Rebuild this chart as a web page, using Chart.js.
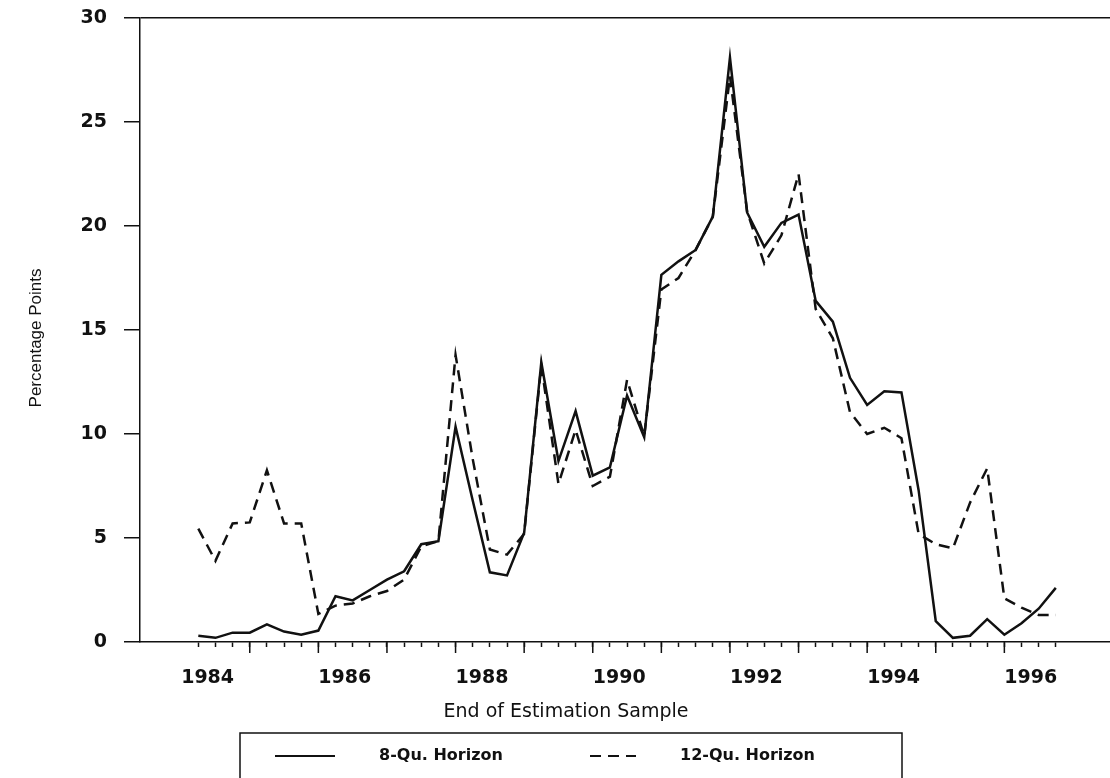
<!DOCTYPE html>
<html>
<head>
<meta charset="utf-8">
<title>Forecast error by end of estimation sample</title>
<script src="https://cdn.jsdelivr.net/npm/chart.js@4.4.1/dist/chart.umd.min.js"></script>
<style>
    html, body { margin: 0; padding: 0; background: #fff; }
    #wrap { width: 1110px; height: 778px; position: relative; }
</style>
</head>
<body>
<div id="wrap"><canvas id="chart"></canvas></div>
<script>
// Quarterly values, first point 1984 Q2, last point 1996 Q4
const eightQu = [
    0.3, 0.2, 0.45, 0.45, 0.85, 0.5, 0.35, 0.55,
    2.2, 2.0, 2.5, 3.0, 3.4, 4.7, 4.85, 10.35,
    6.8, 3.35, 3.2, 5.25, 13.45, 8.7, 11.1, 8.0,
    8.4, 11.85, 9.85, 17.65, 18.3, 18.85, 20.45, 28.1,
    20.65, 19.0, 20.15, 20.55, 16.4, 15.4, 12.7, 11.4,
    12.05, 12.0, 7.3, 1.0, 0.2, 0.3, 1.1, 0.35,
    0.9, 1.6, 2.6
];
const twelveQu = [
    5.45, 3.9, 5.7, 5.75, 8.25, 5.7, 5.7, 1.35,
    1.75, 1.85, 2.2, 2.45, 3.0, 4.6, 4.85, 13.8,
    8.8, 4.45, 4.2, 5.2, 13.3, 7.6, 10.2, 7.5,
    7.95, 12.6, 9.9, 16.95, 17.5, 18.85, 20.45, 27.2,
    20.7, 18.2, 19.55, 22.5, 16.0, 14.6, 11.05, 10.0,
    10.3, 9.8, 5.2, 4.7, 4.5, 6.7, 8.35, 2.1,
    1.65, 1.3, 1.3
];
const seriesLabels = ['8-Qu. Horizon', '12-Qu. Horizon'];
const yearLabels = [1984, 1986, 1988, 1990, 1992, 1994, 1996];
const yTicks = [0, 5, 10, 15, 20, 25, 30];
const xTitle = 'End of Estimation Sample';
const yTitle = 'Percentage Points';

// end-of-quarter dates, 1984.25 = 1984 Q2
const dates = eightQu.map((_, i) => 1984.25 + i * 0.25);

const ink = '#111';

// long ticks at full years, axis titles and the boxed legend
const decorations = {
    id: 'decorations',
    afterDraw(chart) {
        const ctx = chart.ctx;
        const area = chart.chartArea;
        const x = chart.scales.x;
        ctx.save();
        ctx.strokeStyle = ink;
        ctx.fillStyle = ink;
        ctx.lineWidth = 1.5;

        dates.filter(d => Number.isInteger(d)).forEach(d => {
            const px = x.getPixelForValue(d);
            ctx.beginPath();
            ctx.moveTo(px, area.bottom);
            ctx.lineTo(px, area.bottom + 11);
            ctx.stroke();
        });

        ctx.textAlign = 'center';
        ctx.textBaseline = 'middle';
        ctx.font = '19px "DejaVu Sans"';
        ctx.fillText(xTitle, 566, 712);

        ctx.save();
        ctx.translate(36, 338);
        ctx.rotate(-Math.PI / 2);
        ctx.font = '17px "Liberation Sans"';
        ctx.fillText(yTitle, 0, 0);
        ctx.restore();

        // legend
        ctx.lineWidth = 1.5;
        ctx.strokeRect(240, 733, 662, 70);
        const items = [
            { x0: 275, x1: 335, tx: 379 },
            { x0: 590, x1: 636, tx: 680 }
        ];
        ctx.font = 'bold 16px "DejaVu Sans"';
        ctx.textAlign = 'left';
        chart.data.datasets.forEach((ds, i) => {
            const it = items[i];
            ctx.lineWidth = 2;
            ctx.setLineDash(ds.borderDash || []);
            ctx.beginPath();
            ctx.moveTo(it.x0, 756);
            ctx.lineTo(it.x1, 756);
            ctx.stroke();
            ctx.setLineDash([]);
            ctx.fillText(ds.label, it.tx, 756);
        });
        ctx.restore();
    }
};

new Chart(document.getElementById('chart'), {
    type: 'line',
    data: {
        datasets: [
            {
                label: seriesLabels[0],
                data: dates.map((d, i) => ({ x: d, y: eightQu[i] })),
                borderColor: ink,
                borderWidth: 2.5,
                pointRadius: 0,
                tension: 0
            },
            {
                label: seriesLabels[1],
                data: dates.map((d, i) => ({ x: d, y: twelveQu[i] })),
                borderColor: ink,
                borderWidth: 2.5,
                borderDash: [11, 7],
                pointRadius: 0,
                tension: 0
            }
        ]
    },
    options: {
        responsive: true,
        maintainAspectRatio: false,
        animation: false,
        layout: { padding: { top: 18, right: 0, left: 0, bottom: 0 } },
        plugins: {
            legend: { display: false },
            tooltip: { enabled: false }
        },
        scales: {
            x: {
                type: 'linear',
                min: 1983.40,
                max: 1997.54,
                afterFit: scale => {
                    scale.height = 136;
                    scale.paddingLeft = 0;
                    scale.paddingRight = 0;
                },
                afterBuildTicks: scale => {
                    const extra = yearLabels.filter(y => !dates.includes(y));
                    scale.ticks = dates.concat(extra).sort((a, b) => a - b).map(v => ({ value: v }));
                },
                border: { display: true, color: ink, width: 1.5 },
                grid: {
                    drawOnChartArea: false,
                    tickLength: 5,
                    tickWidth: 1.5,
                    tickColor: c => (c.tick && dates.includes(c.tick.value)) ? ink : 'rgba(0,0,0,0)'
                },
                ticks: {
                    autoSkip: false,
                    maxRotation: 0,
                    align: 'start',
                    padding: 20,
                    color: ink,
                    font: { family: 'DejaVu Sans', weight: 'bold', size: 19 },
                    callback: v => yearLabels.includes(v) ? String(v) : ''
                }
            },
            y: {
                min: yTicks[0],
                max: yTicks[yTicks.length - 1],
                afterFit: scale => {
                    scale.width = 140;
                    scale.paddingTop = 0;
                    scale.paddingBottom = 0;
                },
                afterBuildTicks: scale => { scale.ticks = yTicks.map(v => ({ value: v })); },
                border: { display: true, color: ink, width: 1.5 },
                grid: {
                    drawOnChartArea: true,
                    tickLength: 16,
                    lineWidth: 1.5,
                    tickWidth: 1.5,
                    tickColor: ink,
                    color: c => (c.tick && c.tick.value === 30) ? ink : 'rgba(0,0,0,0)'
                },
                ticks: {
                    padding: 17,
                    color: ink,
                    font: { family: 'DejaVu Sans', weight: 'bold', size: 19 }
                }
            }
        }
    },
    plugins: [decorations]
});
</script>
</body>
</html>
